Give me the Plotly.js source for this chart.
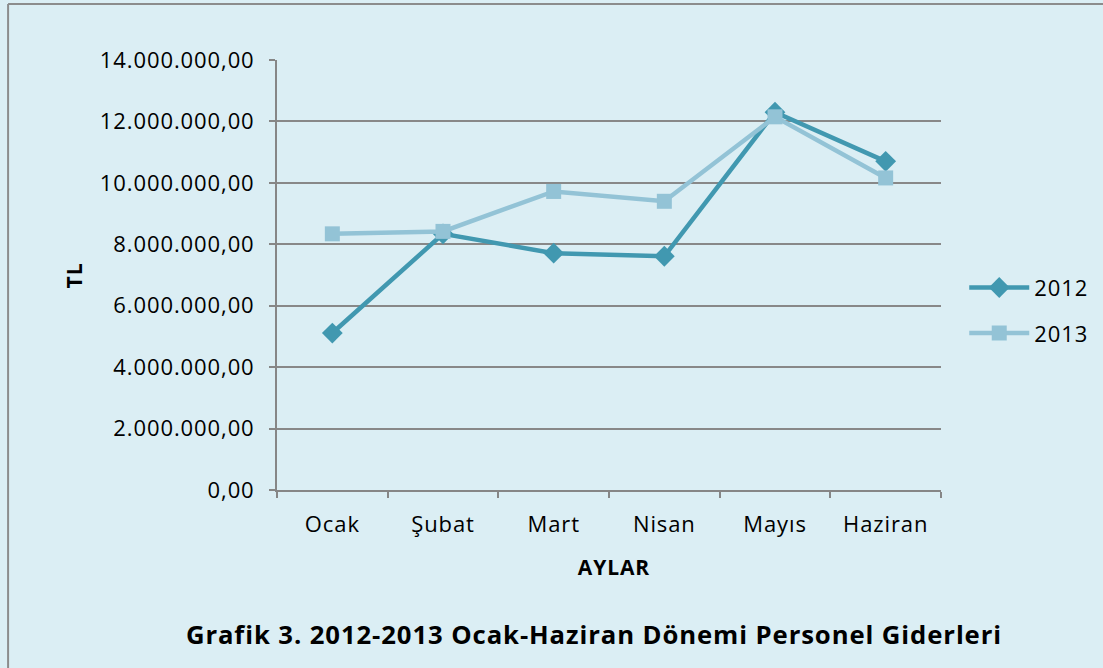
<!DOCTYPE html>
<html>
<head>
<meta charset="utf-8">
<script src="https://cdn.plot.ly/plotly-3.0.1.min.js"></script>
<style>
html,body{margin:0;padding:0;background:#DBEEF4;}
#chart{width:1103px;height:668px;}
#chart text{letter-spacing:0.9px;}
</style>
</head>
<body>
<div id="chart"></div>
<script>
const months = ["Ocak","Şubat","Mart","Nisan","Mayıs","Haziran"];
const values2012 = [5110000, 8340000, 7710000, 7610000, 12300000, 10700000];
const values2013 = [8340000, 8420000, 9720000, 9400000, 12150000, 10160000];
const yTickVals = [0,2000000,4000000,6000000,8000000,10000000,12000000,14000000];
const yTickText = ["0,00","2.000.000,00","4.000.000,00","6.000.000,00","8.000.000,00","10.000.000,00","12.000.000,00","14.000.000,00"];

const FONT = "Open Sans, Lato, sans-serif";
const traces = [
  {x: months, y: values2012, name: "2012", type: "scatter", mode: "lines+markers",
   legendgroup: "a",
   line: {color: "#4198B0", width: 4.5},
   marker: {symbol: "diamond", size: 16, color: "#4198B0"}},
  {x: months, y: values2013, name: "2013", type: "scatter", mode: "lines+markers",
   legendgroup: "b",
   line: {color: "#93C3D6", width: 4.5},
   marker: {symbol: "square", size: 15, color: "#93C3D6"}}
];

const layout = {
  width: 1103, height: 668,
  paper_bgcolor: "#DBEEF4", plot_bgcolor: "#DBEEF4",
  margin: {l: 277, r: 162, t: 60, b: 178},
  font: {family: FONT, size: 22, color: "#000"},
  showlegend: true,
  legend: {x: 1.035, y: 0.417, xanchor: "left", yanchor: "middle",
           bgcolor: "rgba(0,0,0,0)", font: {size: 22, family: FONT},
           tracegroupgap: 14, itemwidth: 60},
  xaxis: {type: "category", range: [-0.5, 5.5], showgrid: false,
          showline: true, linecolor: "#868686", linewidth: 2,
          ticks: "outside", tickson: "boundaries", ticklen: 6, tickcolor: "#868686", tickwidth: 2,
          ticklabelstandoff: 14,
          tickfont: {size: 22, family: FONT}, zeroline: false, fixedrange: true},
  yaxis: {range: [0, 14000000], tickvals: yTickVals, ticktext: yTickText,
          showgrid: true, gridcolor: "#888888", gridwidth: 2,
          showline: true, linecolor: "#868686", linewidth: 2,
          ticks: "outside", ticklen: 6, tickcolor: "#868686", tickwidth: 2,
          ticklabelstandoff: 10,
          tickfont: {size: 22, family: FONT}, zeroline: false, fixedrange: true},
  annotations: [
    {text: "<b>AYLAR</b>", xref: "paper", yref: "paper", x: 0.507, y: -0.18,
     xanchor: "center", yanchor: "middle", showarrow: false, font: {size: 21, family: FONT}},
    {text: "<b>TL</b>", xref: "paper", yref: "paper", x: -0.305, y: 0.5, textangle: -90,
     xanchor: "center", yanchor: "middle", showarrow: false, font: {size: 21, family: FONT}},
    {text: "<b>Grafik 3. 2012-2013 Ocak-Haziran Dönemi Personel Giderleri</b>", xref: "paper", yref: "paper",
     x: 0.478, y: -0.335, xanchor: "center", yanchor: "middle", showarrow: false,
     font: {size: 25.7, family: FONT}}
  ],
  shapes: [
    {type: "line", xref: "paper", yref: "paper", x0: -0.405, x1: -0.405, y0: -0.5, y1: 1.13,
     line: {color: "#8C8C8C", width: 2}},
    {type: "line", xref: "paper", yref: "paper", x0: -0.405, x1: 1.3, y0: 1.13, y1: 1.13,
     line: {color: "#8C8C8C", width: 2}}
  ]
};

Plotly.newPlot("chart", traces, layout, {displayModeBar: false, staticPlot: true});
</script>
</body>
</html>
